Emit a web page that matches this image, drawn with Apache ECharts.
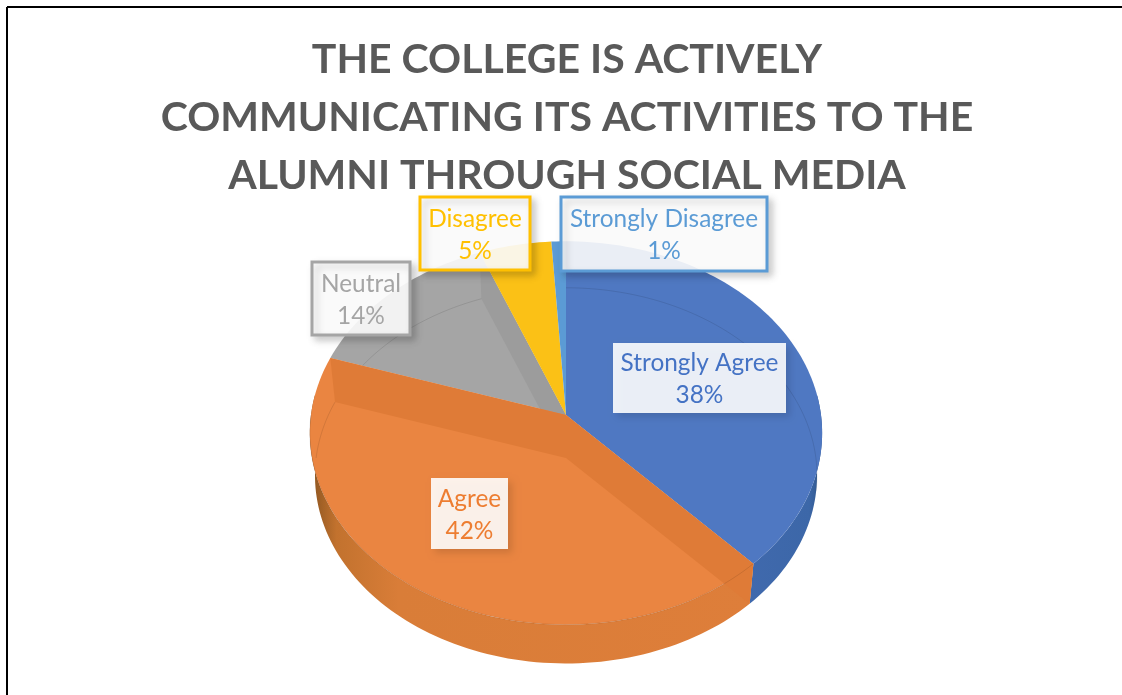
<!DOCTYPE html>
<html><head><meta charset="utf-8">
<style>html,body{margin:0;padding:0;background:#fff}#c{width:1122px;height:695px}</style>
<script src="https://cdn.jsdelivr.net/npm/echarts@6/dist/echarts.min.js"></script>
</head><body><div id="c"></div>
<script>
const titleText = 'THE COLLEGE IS ACTIVELY\nCOMMUNICATING ITS ACTIVITIES TO THE\nALUMNI THROUGH SOCIAL MEDIA';
const categories = ['Strongly Agree','Agree','Neutral','Disagree','Strongly Disagree'];
const values = [38,42,14,5,1];

const faceColors = ['#4f78c2','#ea8541','#a5a5a5','#fbc116','#5b9bd5'];
const bandColors = ['#4a72ba','#df7b37','#9c9c9c','#f0b810','#5b9bd5'];
const textColors = ['#4472c4','#ed7d31','#a5a5a5','#ffc000','#5b9bd5'];
const layerOrder = [1,6,2,3,4];
const labelBoxes = [
  {l:613,t:343,r:786,b:413,border:false},
  {l:431,t:478,r:508,b:549,border:false},
  {l:312,t:262,r:410,b:335,border:true},
  {l:420,t:197,r:530,b:270,border:true},
  {l:561,t:197,r:767,b:271,border:true}
];

const total = values.reduce((a,b)=>a+b,0);
let running = 0;
const sliceData = values.map(v=>{const row=[v,running];running+=v;return row;});

// projected disc geometry
const CX=566, CY=415, RX=255, RY=190, K=0.0938, DEPTH=43, BACK=0.98;
function pt(deg,scale,dy){
  const t=deg*Math.PI/180, s=Math.sin(t), c=Math.cos(t), w=1+K*c;
  return [CX+scale*RX*s/w, CY+dy-scale*RY*c/w];
}
function arc(a,b,scale,dy){
  const out=[], n=Math.max(2,Math.ceil(Math.abs(b-a)/1.5));
  for(let i=0;i<=n;i++) out.push(pt(a+(b-a)*i/n,scale,dy));
  return out;
}
const apex=[CX,CY], backApex=[CX,CY+DEPTH];

function renderSlice(params,api){
  const i=params.dataIndex, a=api.value(1)/total*360, b=a+api.value(0)/total*360;
  const z=layerOrder[i]*10, children=[];
  // outer wall along the near half
  const wa=Math.max(a,84), wb=Math.min(b,276);
  if(wb>wa){
    const pts=arc(wa,wb,1,0).concat(arc(wa,wb,BACK,DEPTH).reverse());
    const fill = i===0
      ? new echarts.graphic.LinearGradient(1,0,0,0,[{offset:0,color:'#2e5488'},{offset:.18,color:'#3c67a8'},{offset:1,color:'#4069ad'}])
      : new echarts.graphic.LinearGradient(0,0,1,0,[{offset:0,color:'#8a5420'},{offset:.06,color:'#c2722e'},{offset:.2,color:'#d97d38'},{offset:1,color:'#de7e3a'}]);
    children.push({type:'polygon',z2:z,shape:{points:pts},style:{fill:fill}});
  }
  // top face
  children.push({type:'polygon',z2:z+1,shape:{points:[apex].concat(arc(a,b,1,0))},style:{fill:faceColors[i]}});
  // rim of the lower disc seen through the face
  const ba=Math.max(a,0), lines=[];
  if(i===0) lines.push(arc(ba,Math.min(b,100),BACK,DEPTH));
  if(i===1){ lines.push(arc(Math.max(a,100),Math.min(b,270),1,0)); lines.push(arc(270,b,BACK,DEPTH)); }
  if(i===2) lines.push(arc(a,b,BACK,DEPTH));
  lines.forEach(p=>children.push({type:'polyline',z2:z+3,shape:{points:p},style:{fill:null,stroke:'rgba(0,0,0,0.1)',lineWidth:1}}));
  // cut faces seen through the top
  const edges = i===1 ? [a,b] : (i===2 ? [b] : []);
  edges.forEach(edge=>{
    children.push({type:'polygon',z2:z+2,shape:{points:[apex,pt(edge,1,0),pt(edge,BACK,DEPTH),backApex]},style:{fill:bandColors[i]}});
  });
  return {type:'group',children:children};
}

function renderLabel(params,api){
  const i=params.dataIndex, box=labelBoxes[i], col=textColors[i];
  const mid=(box.l+box.r)/2, midY=(box.t+box.b)/2;
  const font='400 24.4px Lato, "Noto Sans", sans-serif';
  const shadowAlpha = box.border ? 0.2 : 0.14;
  return {type:'group',children:[
    {type:'rect',z2:100,shape:{x:box.l,y:box.t,width:box.r-box.l,height:box.b-box.t},
     style:{fill:'rgba(255,255,255,0.89)',stroke:box.border?col:null,lineWidth:box.border?3:0,
            shadowBlur:7,shadowOffsetX:4,shadowOffsetY:4,shadowColor:'rgba(0,0,0,'+shadowAlpha+')'}},
    {type:'text',z2:101,style:{text:categories[i],x:mid,y:midY-14.5,fill:col,font:font,align:'center',verticalAlign:'middle'}},
    {type:'text',z2:101,style:{text:api.value(0)+'%',x:mid,y:midY+17.5,fill:col,font:font,align:'center',verticalAlign:'middle'}}
  ]};
}

const chart=echarts.init(document.getElementById('c'),null,{renderer:'canvas'});
chart.setOption({
  animation:false,
  backgroundColor:'#ffffff',
  title:{text:titleText,left:562,top:26,itemGap:0,
    textAlign:'center',
    textStyle:{fontFamily:'Lato, "Noto Sans", sans-serif',fontWeight:700,fontSize:41,lineHeight:58,color:'#595959',align:'center'}},
  graphic:[
    {type:'line',shape:{x1:7,y1:7,x2:1122,y2:7},style:{stroke:'#000',lineWidth:2},silent:true},
    {type:'line',shape:{x1:7,y1:7,x2:7,y2:695},style:{stroke:'#000',lineWidth:2},silent:true}
  ],
  series:[
    {type:'custom',coordinateSystem:'none',clip:false,renderItem:renderSlice,data:sliceData,silent:true,z:2},
    {type:'custom',coordinateSystem:'none',clip:false,renderItem:renderLabel,data:sliceData,silent:true,z:3}
  ]
});
</script></body></html>
